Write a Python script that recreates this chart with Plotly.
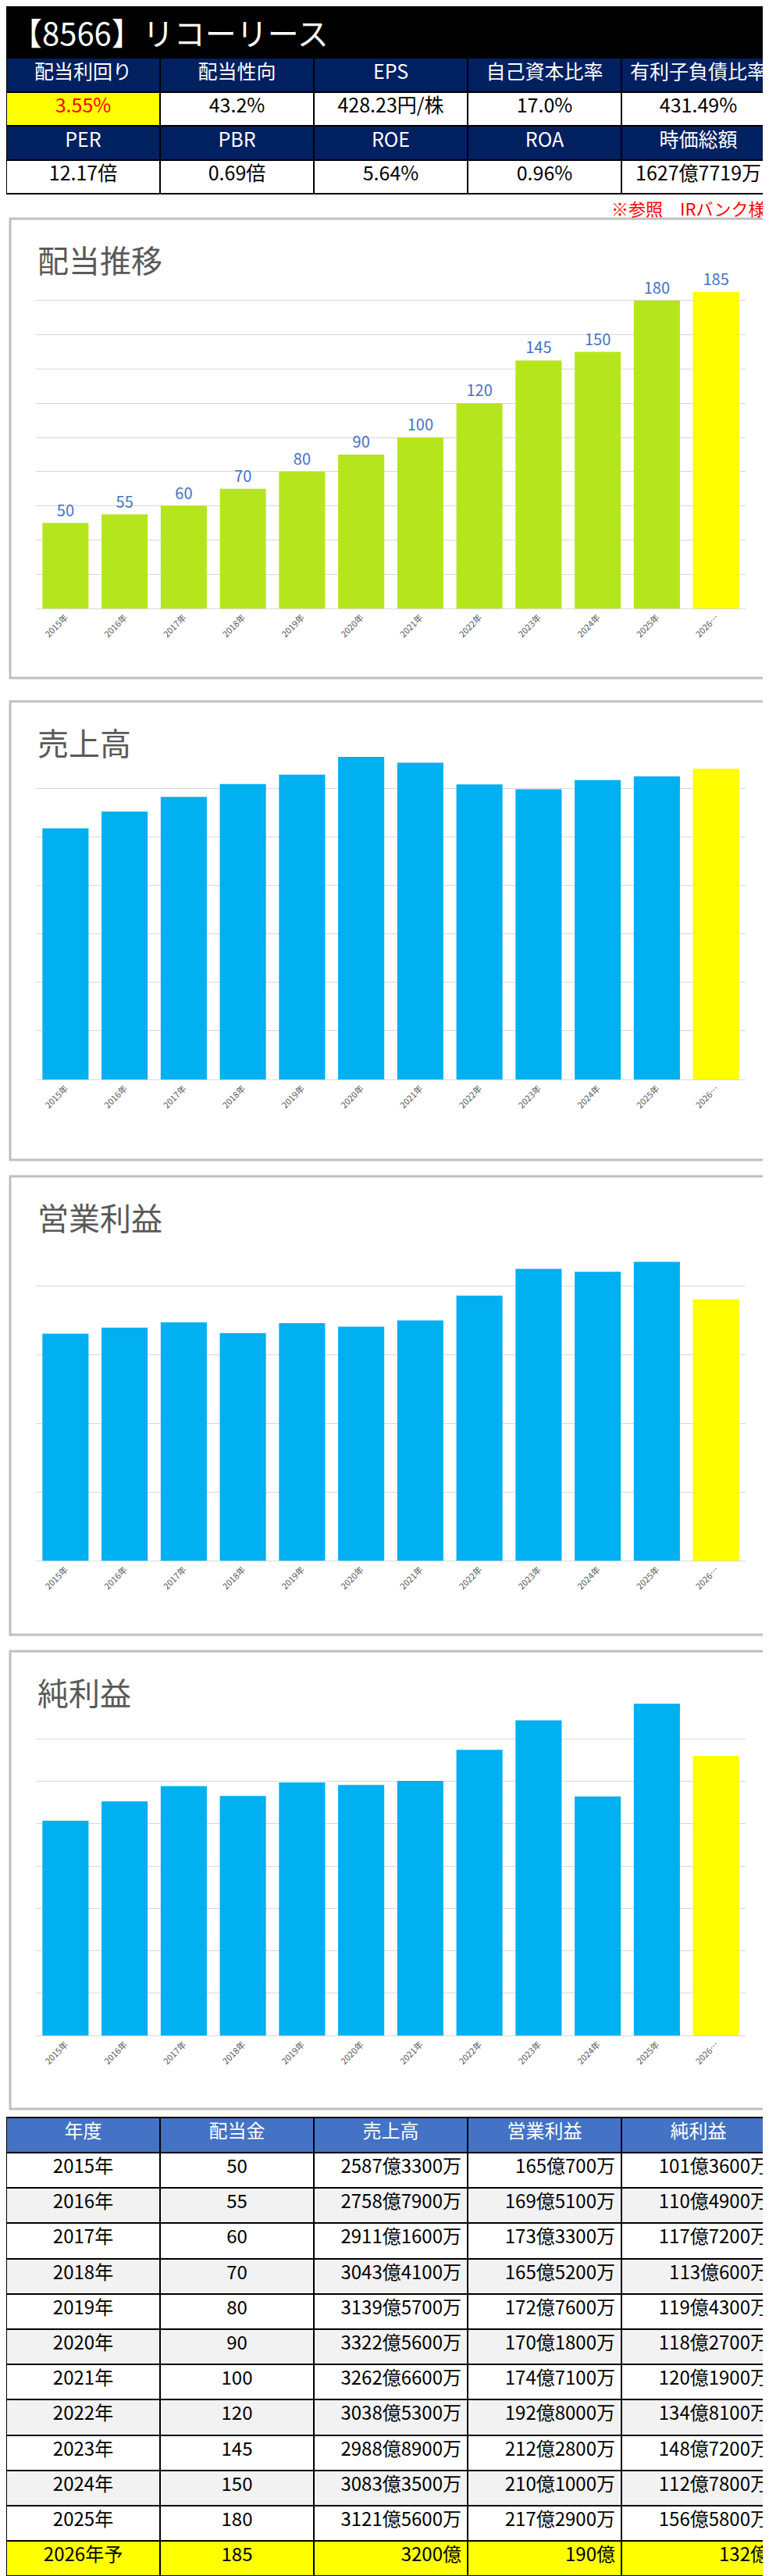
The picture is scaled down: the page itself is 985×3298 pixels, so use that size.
import plotly.graph_objects as go

W, H = 985, 3298
years = ["2015年","2016年","2017年","2018年","2019年","2020年","2021年","2022年","2023年","2024年","2025年","2026年予"]
tick_labels = ["2015年","2016年","2017年","2018年","2019年","2020年","2021年","2022年","2023年","2024年","2025年","2026…"]
dividend = [50,55,60,70,80,90,100,120,145,150,180,185]
sales = [2587.33,2758.79,2911.16,3043.41,3139.57,3322.56,3262.66,3038.53,2988.89,3083.35,3121.56,3200]
op_profit = [165.07,169.51,173.33,165.52,172.76,170.18,174.71,192.80,212.28,210.10,217.29,190]
net_profit = [101.36,110.49,117.72,113.06,119.43,118.27,120.19,134.81,148.72,112.78,156.58,132]

sales_txt = ["2587億3300万","2758億7900万","2911億1600万","3043億4100万","3139億5700万","3322億5600万","3262億6600万","3038億5300万","2988億8900万","3083億3500万","3121億5600万","3200億"]
op_txt = ["165億700万","169億5100万","173億3300万","165億5200万","172億7600万","170億1800万","174億7100万","192億8000万","212億2800万","210億1000万","217億2900万","190億"]
net_txt = ["101億3600万","110億4900万","117億7200万","113億600万","119億4300万","118億2700万","120億1900万","134億8100万","148億7200万","112億7800万","156億5800万","132億"]

metric_h1 = ["配当利回り","配当性向","EPS","自己資本比率","有利子負債比率"]
metric_v1 = ["3.55%","43.2%","428.23円/株","17.0%","431.49%"]
metric_h2 = ["PER","PBR","ROE","ROA","時価総額"]
metric_v2 = ["12.17倍","0.69倍","5.64%","0.96%","1627億7719万"]

FONT = "Noto Sans CJK JP"
def py(y): return 1 - y / H

fig = go.Figure()
shapes, anns = [], []

# title bar
shapes.append(dict(type="rect", xref="paper", yref="paper", x0=0, x1=1, y0=py(65), y1=1, fillcolor="black", line_width=0))
anns.append(dict(text="【8566】リコーリース", x=4/W, y=py(33), xref="paper", yref="paper", xanchor="left", yanchor="middle",
                 showarrow=False, font=dict(color="white", size=40, family=FONT)))

# top metrics table
navy = "#002060"
cols = []
fills = []
fcols = []
for i in range(5):
    cols.append([metric_h1[i], metric_v1[i], metric_h2[i], metric_v2[i]])
    fills.append([navy, "#FFFF00" if i == 0 else "white", navy, "white"])
    fcols.append(["white", "red" if i == 0 else "black", "white", "black"])
fig.add_trace(go.Table(domain=dict(x=[0, 1], y=[py(242), py(65)]), columnwidth=[1]*5,
    header=dict(values=[""]*5, height=1, fill_color="black", line=dict(color="black", width=0)),
    cells=dict(values=cols, fill_color=fills, font=dict(color=fcols, size=25, family=FONT),
               align="center", height=43.5, line=dict(color="black", width=2))))

anns.append(dict(text="※参照　IRバンク様", x=975/W, y=py(258), xref="paper", yref="paper", xanchor="right", yanchor="middle",
                 showarrow=False, font=dict(color="red", size=22, family=FONT)))

# charts
charts = [
    ("配当推移", dividend, "#B5E61D", (272, 860), (333, 771), 200, 20),
    ("売上高", sales, "#00B0F0", (890, 1477), (939, 1374), 3500, 500),
    ("営業利益", op_profit, "#00B0F0", (1498, 2085), (1550, 1990), 250, 50),
    ("純利益", net_profit, "#00B0F0", (2106, 2692), (2164, 2598), 160, 20),
]
for k, (title, vals, col, panel, plot, ymax, dt) in enumerate(charts):
    n = k + 1
    xa = "x" if n == 1 else f"x{n}"
    ya = "y" if n == 1 else f"y{n}"
    shapes.append(dict(type="rect", xref="paper", yref="paper", x0=5/W, x1=980/W, y0=py(panel[1]), y1=py(panel[0]),
                       fillcolor="white", line=dict(color="#BFBFBF", width=3), layer="below"))
    colors = [col]*11 + ["#FFFF00"]
    bar = go.Bar(x=years, y=vals, marker=dict(color=colors, line_width=0), xaxis=xa, yaxis=ya, width=0.78, showlegend=False)
    if n == 1:
        bar.update(text=[str(v) for v in vals], textposition="outside", cliponaxis=False,
                   textfont=dict(color="#4472C4", size=20, family=FONT))
    fig.add_trace(bar)
    fig.layout[f"xaxis{'' if n == 1 else n}"] = dict(domain=[38/W, 947/W], anchor=ya, tickangle=-45,
        tickvals=years, ticktext=tick_labels, tickfont=dict(size=11, color="#595959", family=FONT),
        showline=True, linecolor="#D9D9D9", showgrid=False, fixedrange=True)
    fig.layout[f"yaxis{'' if n == 1 else n}"] = dict(domain=[py(plot[1]), py(plot[0])], anchor=xa, range=[0, ymax],
        dtick=dt, showticklabels=False, gridcolor="#D9D9D9", zeroline=False, showgrid=True)
    anns.append(dict(text=title, x=38/W, y=py(panel[0] + 52), xref="paper", yref="paper", xanchor="left", yanchor="middle",
                     showarrow=False, font=dict(color="#595959", size=40, family=FONT)))

# bottom table
n = len(years)
row_fill = [("#FFFF00" if i == n-1 else ("white" if i % 2 == 0 else "#F2F2F2")) for i in range(n)]
fig.add_trace(go.Table(domain=dict(x=[0, 1], y=[0.0, py(2703)]),
    header=dict(values=["年度","配当金","売上高","営業利益","純利益"], fill_color="#4472C4",
                font=dict(color="white", size=24, family=FONT), align="center", height=45, line=dict(color="black", width=2)),
    cells=dict(values=[years, [str(v) for v in dividend], sales_txt, op_txt, net_txt],
               fill_color=[row_fill]*5, font=dict(color="black", size=24, family=FONT),
               align=["center", "center", "right", "right", "right"], height=45.2, line=dict(color="black", width=2))))

fig.update_layout(width=W, height=H, margin=dict(l=0, r=0, t=0, b=0), paper_bgcolor="white", plot_bgcolor="white",
                  shapes=shapes, annotations=anns, bargap=0.2, font=dict(family=FONT))
fig.write_html("out.html")
